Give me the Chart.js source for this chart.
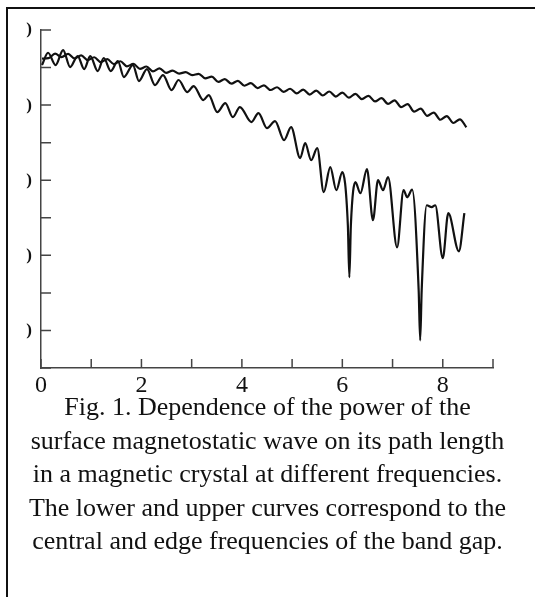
<!DOCTYPE html>
<html>
<head>
<meta charset="utf-8">
<script src="https://cdn.jsdelivr.net/npm/chart.js@4/dist/chart.umd.min.js"></script>
<style>
  html, body { margin: 0; padding: 0; background: #fff; }
  #wrap { position: relative; width: 535px; height: 597px; background: #fff; overflow: hidden; }
  #frame { position: absolute; left: 6px; top: 7px; width: 560px; height: 620px;
           border-left: 2px solid #111; border-top: 2px solid #111; }
  #box { position: absolute; left: 0; top: 0; width: 535px; height: 400px; }
  #cap { position: absolute; left: 0; top: 390px; width: 535px; text-align: center;
         font-family: 'Liberation Serif', 'Times New Roman', serif; font-size: 26px;
         line-height: 33.5px; color: #111; }
</style>
</head>
<body>
<div id="wrap">
  <div id="frame"></div>
  <div id="box"><canvas id="c"></canvas></div>
  <div id="cap">Fig. 1. Dependence of the power of the<br>surface magnetostatic wave on its path length<br>in a magnetic crystal at different frequencies.<br>The lower and upper curves correspond to the<br>central and edge frequencies of the band gap.</div>
</div>
<script>
// ---- data (path length, power) ----
const xTickValues = [0, 1, 2, 3, 4, 5, 6, 7, 8, 9];
const xTickLabels = ['0', '', '2', '', '4', '', '6', '', '8', ''];
const yTickValues = [-45, -40, -35, -30, -25, -20, -15, -10, -5, 0];
const yTickLabels = ['', ')', '', ')', '', ')', '', ')', '', ')'];

// lower curve: central frequency of the band gap
const lowerX = [0.02, 0.14, 0.29, 0.44, 0.58, 0.73, 0.86, 0.98, 1.13, 1.25, 1.39, 1.53, 1.65, 1.83, 1.95,
  2.11, 2.27, 2.43, 2.60, 2.74, 2.91, 3.04, 3.23, 3.34, 3.51, 3.67, 3.82, 3.96, 4.19, 4.33, 4.50, 4.66,
  4.84, 4.98, 5.16, 5.26, 5.38, 5.50, 5.63, 5.76, 5.88, 6.00, 6.11, 6.14, 6.17, 6.26, 6.36, 6.49, 6.61,
  6.71, 6.81, 6.91, 7.09, 7.22, 7.29, 7.39, 7.52, 7.55, 7.58, 7.68, 7.78, 7.85, 8.00, 8.11, 8.32, 8.43];
const lowerY = [-4.67, -3.03, -4.67, -2.67, -4.93, -3.47, -5.20, -3.47, -5.47, -3.73, -5.47, -4.13, -6.27, -4.67, -6.80,
  -5.20, -7.33, -6.00, -8.00, -6.66, -8.26, -7.46, -9.33, -8.66, -10.93, -9.73, -11.60, -10.26, -12.26, -11.06, -13.06, -12.13,
  -14.66, -12.93, -17.06, -15.06, -17.33, -15.73, -21.59, -18.26, -21.33, -18.93, -25.99, -32.92, -25.99, -20.26, -21.73, -18.53, -25.33,
  -19.99, -21.33, -19.59, -28.93, -21.33, -22.26, -21.26, -34.66, -41.32, -34.66, -23.33, -23.59, -23.33, -30.39, -24.39, -29.46, -24.39];

// upper curve: edge frequency of the band gap
const upperX = [0.02, 0.15, 0.28, 0.41, 0.54, 0.67, 0.80, 0.93, 1.06, 1.19, 1.32, 1.45, 1.58, 1.71, 1.84, 1.97,
  2.10, 2.23, 2.36, 2.49, 2.62, 2.75, 2.88, 3.01, 3.14, 3.27, 3.40, 3.53, 3.66, 3.79, 3.92, 4.05, 4.18, 4.31,
  4.44, 4.57, 4.70, 4.83, 4.96, 5.09, 5.22, 5.35, 5.48, 5.61, 5.74, 5.87, 6.00, 6.13, 6.26, 6.39, 6.52, 6.65,
  6.78, 6.91, 7.04, 7.17, 7.30, 7.43, 7.56, 7.69, 7.82, 7.95, 8.08, 8.21, 8.34, 8.47];
const upperY = [-3.80, -3.75, -3.15, -3.60, -3.19, -3.78, -3.37, -4.00, -3.63, -4.26, -3.89, -4.53, -4.16, -4.84, -4.51, -5.18,
  -4.86, -5.50, -5.10, -5.70, -5.40, -5.80, -5.61, -6.02, -5.83, -6.45, -6.21, -6.91, -6.53, -7.15, -6.77, -7.42, -7.07, -7.73,
  -7.36, -7.99, -7.62, -8.23, -7.82, -8.45, -7.93, -8.60, -8.06, -8.72, -8.19, -8.86, -8.33, -9.01, -8.50, -9.21, -8.76, -9.51,
  -9.07, -9.84, -9.36, -10.26, -9.86, -10.87, -10.47, -11.43, -10.99, -11.95, -11.46, -12.38, -11.89, -12.95];

const toPoints = (xs, ys) => xs.map((x, i) => ({ x: x, y: ys[i] }));

const inwardTicks = {
  id: 'inwardTicks',
  afterDraw(chart) {
    const { ctx, chartArea: a, scales: { x, y } } = chart;
    ctx.save();
    ctx.strokeStyle = '#444';
    ctx.lineWidth = 1.5;
    ctx.beginPath();
    x.ticks.forEach((t, i) => {
      const px = x.getPixelForTick(i);
      ctx.moveTo(px, a.bottom);
      ctx.lineTo(px, a.bottom - 9);
    });
    y.ticks.forEach((t, i) => {
      const py = y.getPixelForTick(i);
      ctx.moveTo(a.left, py);
      ctx.lineTo(a.left + 10, py);
    });
    ctx.stroke();
    ctx.restore();
  }
};

const lineStyle = {
  borderColor: '#111',
  borderWidth: 2.2,
  pointRadius: 0,
  fill: false,
  cubicInterpolationMode: 'monotone'
};

new Chart(document.getElementById('c'), {
  type: 'line',
  data: {
    datasets: [
      Object.assign({ label: 'upper', data: toPoints(upperX, upperY) }, lineStyle),
      Object.assign({ label: 'lower', data: toPoints(lowerX, lowerY) }, lineStyle)
    ]
  },
  options: {
    responsive: true,
    maintainAspectRatio: false,
    animation: false,
    layout: { padding: { top: 30, right: 42, left: 0, bottom: 0 } },
    plugins: { legend: { display: false }, tooltip: { enabled: false } },
    scales: {
      x: {
        type: 'linear', min: 0, max: 9,
        afterFit: s => { s.height = 32; },
        afterBuildTicks: s => { s.ticks = xTickValues.map(v => ({ value: v })); },
        grid: { drawOnChartArea: false, drawTicks: false },
        border: { color: '#444', width: 1.5 },
        ticks: {
          autoSkip: false, maxRotation: 0, padding: 3, color: '#111',
          font: { family: "'Liberation Serif', serif", size: 24 },
          callback: v => { const i = xTickValues.indexOf(v); return i >= 0 ? xTickLabels[i] : ''; }
        }
      },
      y: {
        type: 'linear', min: -45, max: 0,
        afterFit: s => { s.width = 41; },
        afterBuildTicks: s => { s.ticks = yTickValues.map(v => ({ value: v })); },
        grid: { drawOnChartArea: false, drawTicks: false },
        border: { color: '#444', width: 1.5 },
        ticks: {
          autoSkip: false, padding: 9, color: '#111',
          font: { family: "'Liberation Serif', serif", size: 17, weight: 'bold' },
          callback: v => { const i = yTickValues.indexOf(v); return i >= 0 ? yTickLabels[i] : ''; }
        }
      }
    }
  },
  plugins: [inwardTicks]
});
</script>
</body>
</html>
